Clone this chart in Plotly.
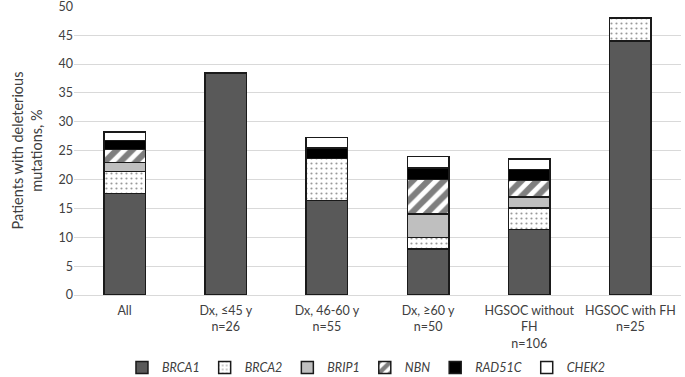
import plotly.graph_objects as go

categories = ["All", "Dx, ≤45 y<br>n=26", "Dx, 46-60 y<br>n=55", "Dx, ≥60 y<br>n=50",
              "HGSOC without<br>FH<br>n=106", "HGSOC with FH<br>n=25"]
brca1 = [17.56, 38.46, 16.36, 8.0, 11.32, 44.0]
brca2 = [3.82, 0, 7.27, 2.0, 3.77, 4.0]
brip1 = [1.53, 0, 0, 4.0, 1.89, 0]
nbn = [2.29, 0, 0, 6.0, 2.83, 0]
rad51c = [1.53, 0, 1.82, 2.0, 1.89, 0]
chek2 = [1.53, 0, 1.82, 2.0, 1.89, 0]
y_ticks = [0, 5, 10, 15, 20, 25, 30, 35, 40, 45, 50]

FONT = "Lato"
TXT = "#404040"
line = dict(color="#1a1a1a", width=1.5)

series = [
    ("BRCA1", brca1, dict(color="#595959", line=line)),
    ("BRCA2", brca2, dict(color="white", line=line,
                          pattern=dict(shape=".", fgcolor="#333333", bgcolor="white", size=5, solidity=0.15))),
    ("BRIP1", brip1, dict(color="#bfbfbf", line=line)),
    ("NBN", nbn, dict(color="white", line=line,
                      pattern=dict(shape="/", fgcolor="black", bgcolor="white", size=11, solidity=0.55))),
    ("RAD51C", rad51c, dict(color="black", line=line)),
    ("CHEK2", chek2, dict(color="white", line=line)),
]

fig = go.Figure()
for name, vals, marker in series:
    fig.add_trace(go.Bar(x=categories, y=vals, name=f"<i>{name}</i>", marker=marker))

fig.update_layout(
    barmode="stack",
    bargap=0.59,
    width=685, height=377,
    margin=dict(l=74, r=4, t=6, b=82, autoexpand=False),
    plot_bgcolor="white", paper_bgcolor="white",
    font=dict(family=FONT, size=12.5, color=TXT),
    showlegend=True,
    legend=dict(orientation="h", xref="container", yref="paper", x=0.535, xanchor="center",
                y=-0.2, yanchor="top", font=dict(size=12.5, color=TXT),
                traceorder="normal", itemwidth=30),
    yaxis=dict(range=[0, 50.05], tickvals=y_ticks, showgrid=True, gridcolor="#d9d9d9", gridwidth=1,
               zeroline=False, showline=False, ticks="", tickfont=dict(size=12.5), automargin=False,
               ticklabeloverflow="allow",
               title=dict(text="Patients with deleterious<br>mutations, %", font=dict(size=14.5), standoff=12)),
    xaxis=dict(showline=True, linecolor="#d9d9d9", ticks="", tickfont=dict(size=12.5), automargin=False,
               ticklabeloverflow="allow", ticklabelstandoff=4),
)

fig.write_html("out.html", config={"displayModeBar": False},
               post_script="document.body.style.margin='0';document.body.style.padding='0';")
